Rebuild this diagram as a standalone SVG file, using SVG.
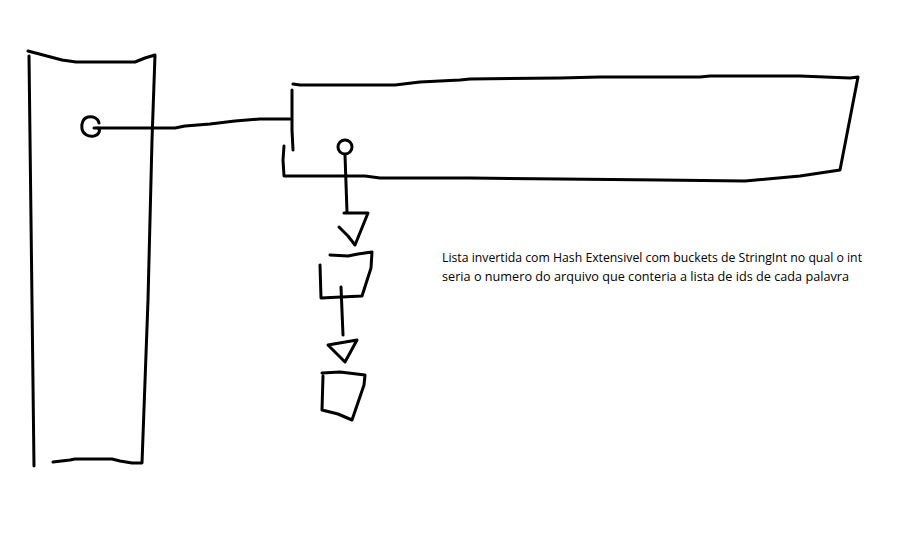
<svg xmlns="http://www.w3.org/2000/svg" width="922" height="540" viewBox="0 0 922 540">
<style>
.s{fill:none;stroke:#000;stroke-width:3;stroke-linecap:round;stroke-linejoin:round}
.t{font-family:"Open Sans","Liberation Sans",Arial,sans-serif;font-size:12.5px;fill:#000}
</style>
<rect width="922" height="540" fill="#fff"/>
<g id="left-box">
<path class="s" d="M29,56 L34,466"/>
<path class="s" d="M28,51 L62,60 L76,62 L135,62 L145,58 L155,55 L152,140 L148,300 L142,463 L132,463 L120,461 L112,459 L75,459 L70,460 L53,462"/>
<path class="s" d="M99,123 C98,118 93,116 88,117 C83,118 81,124 82,129 C83,134 88,137 94,136 C99,135 101,130 98,128"/>
</g>
<g id="right-box">
<path class="s" d="M293,84 L300,85 L395,85 L420,82 L460,80 L470,79 L560,78 L600,77 L700,77 L710,76 L800,76 L850,78 L858,77 L840,170 L800,176 L745,181 L660,180 L560,179 L470,178 L380,178 L365,176 L284,176 L283,160 L284,146"/>
<path class="s" d="M292,90 L292,130 L293,150"/>
<circle class="s" cx="345" cy="147" r="7"/>
</g>
<g id="bucket-1">
<path class="s" d="M344,213 L368,213 L355,245 M339,227 L348,236 L355,245"/>
<path class="s" d="M330,255 L348,256 L358,254 L372,252 L371,268 L362,296 L321,298 L320,265"/>
</g>
<g id="bucket-2">
<path class="s" d="M328,345 L357,340 L345,362 Z"/>
<path class="s" d="M322,373 L340,372 L365,375 L364,385 L352,420 L338,414 L322,410 L323,376"/>
</g>
<g id="connectors">
<path class="s" d="M94,128 L175,128 L185,126 L210,124 L235,121 L260,119 L290,119"/>
<path class="s" d="M345,155 L347,212"/>
<path class="s" d="M341,287 L343,335"/>
</g>
<g id="label">
<text class="t" x="442" y="262" textLength="420" lengthAdjust="spacingAndGlyphs">Lista invertida com Hash Extensivel com buckets de StringInt no qual o int</text>
<text class="t" x="442" y="281" textLength="407" lengthAdjust="spacingAndGlyphs">seria o numero do arquivo que conteria a lista de ids de cada palavra</text>
</g>
</svg>
